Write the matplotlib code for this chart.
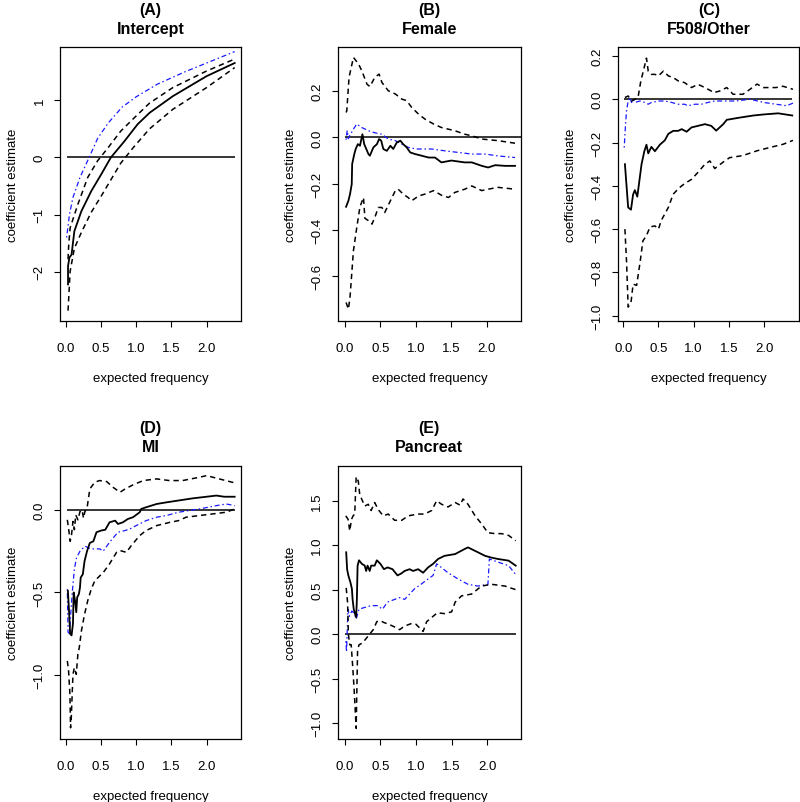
import matplotlib
matplotlib.use("Agg")
import matplotlib.pyplot as plt

plt.rcParams['font.family'] = ['Liberation Sans', 'DejaVu Sans']

# ---------------- data ----------------
titles = ["(A)\nIntercept", "(B)\nFemale", "(C)\nF508/Other", "(D)\nMI", "(E)\nPancreat"]
xlabel = "expected frequency"
ylabel = "coefficient estimate"
xticks = [0.0, 0.5, 1.0, 1.5, 2.0]
xtick_labels = ["0.0", "0.5", "1.0", "1.5", "2.0"]
yticks_A = [-2, -1, 0, 1]
yticks_B = [-0.6, -0.4, -0.2, 0.0, 0.2]
yticks_C = [-1.0, -0.8, -0.6, -0.4, -0.2, 0.0, 0.2]
yticks_D = [-1.0, -0.5, 0.0]
yticks_E = [-1.0, -0.5, 0.0, 0.5, 1.0, 1.5]
ylabels_A = ["\u22122", "\u22121", "0", "1"]
ylabels_B = ["\u22120.6", "\u22120.4", "\u22120.2", "0.0", "0.2"]
ylabels_C = ["\u22121.0", "\u22120.8", "\u22120.6", "\u22120.4", "\u22120.2", "0.0", "0.2"]
ylabels_D = ["\u22121.0", "\u22120.5", "0.0"]
ylabels_E = ["\u22121.0", "\u22120.5", "0.0", "0.5", "1.0", "1.5"]

# Panel A (Intercept)
A_est_x = [0.03, 0.03, 0.05, 0.08, 0.12, 0.22, 0.36, 0.50, 0.64, 0.83, 1.02, 1.19, 1.52, 2.0, 2.4]
A_est_y = [-2.22, -1.90, -1.75, -1.70, -1.29, -0.94, -0.59, -0.30, 0.0, 0.28, 0.58, 0.78, 1.07, 1.42, 1.65]
A_up_x = [0.03, 0.04, 0.06, 0.17, 0.31, 0.45, 0.6, 0.78, 0.97, 1.19, 1.52, 2.0, 2.4]
A_up_y = [-1.78, -1.52, -1.23, -0.82, -0.35, -0.06, 0.17, 0.46, 0.69, 0.95, 1.22, 1.51, 1.72]
A_lo_x = [0.03, 0.05, 0.06, 0.12, 0.22, 0.36, 0.5, 0.64, 0.78, 0.97, 1.19, 1.52, 2.0, 2.4]
A_lo_y = [-2.68, -2.22, -1.99, -1.59, -1.31, -0.96, -0.68, -0.39, -0.10, 0.19, 0.50, 0.84, 1.22, 1.57]
A_bl_x = [0.01, 0.05, 0.1, 0.2, 0.33, 0.45, 0.6, 0.8, 1.0, 1.3, 1.7, 2.0, 2.4]
A_bl_y = [-1.40, -1.0, -0.7, -0.35, 0.0, 0.33, 0.6, 0.88, 1.06, 1.28, 1.5, 1.65, 1.85]

# Panel B (Female)
B_est_x = [0.014, 0.047, 0.07, 0.094, 0.10, 0.13, 0.15, 0.18, 0.21, 0.245, 0.27, 0.33, 0.35, 0.40, 0.45,
           0.48, 0.51, 0.54, 0.59, 0.64, 0.68, 0.73, 0.78, 0.82, 0.87, 0.92, 0.99, 1.08, 1.18, 1.27,
           1.36, 1.5, 1.69, 1.79, 1.93, 2.02, 2.12, 2.26, 2.4]
B_est_y = [-0.30, -0.274, -0.245, -0.202, -0.115, -0.072, -0.05, -0.029, -0.036, 0.014, -0.029, -0.072,
           -0.079, -0.043, -0.029, -0.007, -0.014, -0.05, -0.058, -0.036, -0.05, -0.022, -0.014, -0.029,
           -0.043, -0.065, -0.072, -0.079, -0.087, -0.087, -0.108, -0.10, -0.108, -0.108, -0.123, -0.13,
           -0.12, -0.123, -0.123]
B_up_x = [0.014, 0.024, 0.056, 0.118, 0.19, 0.235, 0.31, 0.35, 0.42, 0.48, 0.52, 0.61, 0.71, 0.8, 0.87,
          0.94, 1.04, 1.13, 1.25, 1.36, 1.55, 1.69, 1.79, 1.93, 2.16, 2.4]
B_up_y = [0.108, 0.115, 0.26, 0.346, 0.318, 0.289, 0.23, 0.22, 0.26, 0.274, 0.238, 0.202, 0.188, 0.166,
          0.159, 0.13, 0.10, 0.079, 0.058, 0.043, 0.029, 0.014, 0.007, -0.007, -0.014, -0.025]
B_lo_x = [0.014, 0.047, 0.07, 0.094, 0.118, 0.165, 0.21, 0.26, 0.28, 0.33, 0.38, 0.42, 0.47, 0.52, 0.56,
          0.64, 0.71, 0.75, 0.82, 0.89, 0.94, 1.04, 1.13, 1.25, 1.36, 1.46, 1.55, 1.69, 1.79, 1.93, 2.02,
          2.16, 2.4]
B_lo_y = [-0.714, -0.743, -0.69, -0.59, -0.49, -0.39, -0.30, -0.26, -0.35, -0.36, -0.375, -0.346, -0.303,
          -0.303, -0.325, -0.274, -0.23, -0.224, -0.245, -0.26, -0.274, -0.253, -0.245, -0.23, -0.25,
          -0.26, -0.238, -0.224, -0.21, -0.23, -0.224, -0.216, -0.224]
B_bl_x = [0.014, 0.03, 0.045, 0.07, 0.118, 0.165, 0.235, 0.33, 0.42, 0.52, 0.61, 0.71, 0.8, 0.89, 1.01,
          1.13, 1.22, 1.41, 1.6, 1.79, 1.98, 2.16, 2.4]
B_bl_y = [-0.01, 0.03, -0.005, 0.01, 0.036, 0.058, 0.043, 0.029, 0.02, 0.014, -0.007, -0.014, -0.029,
          -0.043, -0.05, -0.05, -0.05, -0.058, -0.065, -0.072, -0.072, -0.08, -0.087]

# Panel C (F508/Other)
C_est_x = [0.024, 0.047, 0.07, 0.11, 0.14, 0.165, 0.2, 0.236, 0.26, 0.30, 0.33, 0.355, 0.40, 0.45, 0.52,
           0.59, 0.64, 0.71, 0.78, 0.83, 0.9, 0.97, 1.06, 1.16, 1.25, 1.32, 1.42, 1.47, 1.56, 1.65, 1.75,
           1.85, 2.0, 2.2, 2.4]
C_est_y = [-0.30, -0.40, -0.50, -0.51, -0.44, -0.42, -0.45, -0.36, -0.30, -0.24, -0.21, -0.25, -0.22,
           -0.24, -0.21, -0.19, -0.16, -0.146, -0.146, -0.138, -0.15, -0.13, -0.123, -0.115, -0.123, -0.145,
           -0.115, -0.095, -0.09, -0.085, -0.08, -0.075, -0.07, -0.065, -0.075]
C_up_x = [0.024, 0.07, 0.118, 0.165, 0.21, 0.25, 0.28, 0.33, 0.355, 0.4, 0.45, 0.5, 0.57, 0.64, 0.71, 0.78,
          0.87, 0.97, 1.06, 1.16, 1.25, 1.28, 1.37, 1.47, 1.56, 1.7, 1.8, 1.9, 1.99, 2.17, 2.27, 2.41]
C_up_y = [0.008, 0.015, -0.008, 0.0, 0.008, 0.085, 0.123, 0.19, 0.13, 0.115, 0.115, 0.108, 0.13, 0.108,
          0.1, 0.085, 0.077, 0.054, 0.069, 0.054, 0.038, 0.03, 0.038, 0.054, 0.023, 0.023, 0.046, 0.07,
          0.054, 0.054, 0.06, 0.046]
C_lo_x = [0.024, 0.047, 0.07, 0.11, 0.14, 0.19, 0.236, 0.28, 0.33, 0.38, 0.45, 0.5, 0.54, 0.64, 0.71, 0.8,
          0.87, 0.97, 1.06, 1.16, 1.23, 1.3, 1.42, 1.51, 1.7, 1.9, 2.08, 2.27, 2.41]
C_lo_y = [-0.6, -0.75, -0.96, -0.94, -0.854, -0.86, -0.76, -0.654, -0.63, -0.59, -0.585, -0.6, -0.56,
          -0.5, -0.438, -0.408, -0.39, -0.37, -0.338, -0.3, -0.285, -0.32, -0.29, -0.27, -0.26, -0.238,
          -0.223, -0.208, -0.19]
C_bl_x = [0.014, 0.033, 0.047, 0.07, 0.095, 0.118, 0.14, 0.165, 0.236, 0.31, 0.355, 0.4, 0.5, 0.59, 0.69,
          0.78, 0.87, 0.92, 1.02, 1.11, 1.2, 1.3, 1.37, 1.6, 1.8, 2.0, 2.17, 2.32, 2.41]
C_bl_y = [-0.223, -0.115, -0.054, -0.008, 0.008, -0.015, 0.0, -0.015, -0.008, -0.015, -0.023, -0.015,
          -0.008, -0.008, -0.015, -0.023, -0.023, -0.03, -0.023, -0.023, -0.015, -0.008, -0.008, -0.008,
          0.0, -0.015, -0.023, -0.03, -0.018]

# Panel D (MI)
D_est_x = [0.028, 0.045, 0.06, 0.08, 0.10, 0.11, 0.13, 0.147, 0.16, 0.184, 0.2, 0.21, 0.24, 0.265, 0.3,
           0.34, 0.39, 0.435, 0.5, 0.56, 0.62, 0.7, 0.74, 0.81, 0.88, 0.955, 1.05, 1.07, 1.14, 1.29, 1.43,
           1.6, 1.8, 2.0, 2.14, 2.25, 2.4]
D_est_y = [-0.49, -0.62, -0.75, -0.76, -0.69, -0.50, -0.55, -0.62, -0.53, -0.51, -0.47, -0.41, -0.39,
           -0.31, -0.25, -0.2, -0.19, -0.135, -0.125, -0.12, -0.075, -0.065, -0.085, -0.075, -0.055,
           -0.044, -0.014, 0.006, 0.016, 0.036, 0.046, 0.057, 0.07, 0.08, 0.087, 0.08, 0.08]
D_up_x = [0.02, 0.04, 0.06, 0.08, 0.10, 0.12, 0.14, 0.17, 0.2, 0.23, 0.25, 0.27, 0.3, 0.34, 0.41, 0.48,
          0.58, 0.67, 0.77, 0.84, 0.955, 1.1, 1.29, 1.47, 1.66, 1.9, 2.0, 2.18, 2.4]
D_up_y = [-0.06, -0.12, -0.19, -0.15, -0.07, -0.12, -0.03, -0.06, -0.01, 0.0, -0.05, -0.01, 0.01, 0.127,
          0.168, 0.178, 0.172, 0.137, 0.107, 0.127, 0.152, 0.178, 0.188, 0.178, 0.178, 0.198, 0.208, 0.188,
          0.164]
D_lo_x = [0.02, 0.038, 0.057, 0.066, 0.076, 0.1, 0.12, 0.147, 0.17, 0.19, 0.22, 0.265, 0.31, 0.36, 0.41,
          0.48, 0.53, 0.62, 0.72, 0.77, 0.86, 0.93, 1.05, 1.14, 1.29, 1.48, 1.6, 1.71, 1.9, 2.09, 2.28, 2.4]
D_lo_y = [-0.915, -0.976, -1.117, -1.32, -1.26, -0.996, -0.956, -0.996, -0.875, -0.834, -0.733, -0.632,
          -0.55, -0.48, -0.43, -0.40, -0.38, -0.327, -0.257, -0.246, -0.257, -0.216, -0.155, -0.125, -0.095,
          -0.075, -0.065, -0.044, -0.034, -0.024, -0.014, 0.006]
D_bl_x = [0.02, 0.03, 0.05, 0.07, 0.09, 0.12, 0.15, 0.2, 0.27, 0.36, 0.48, 0.53, 0.62, 0.74, 0.84, 0.91,
          1.0, 1.14, 1.29, 1.43, 1.6, 1.9, 2.14, 2.28, 2.4]
D_bl_y = [-0.48, -0.74, -0.75, -0.62, -0.5, -0.36, -0.29, -0.25, -0.22, -0.236, -0.236, -0.25, -0.196,
          -0.135, -0.125, -0.115, -0.095, -0.065, -0.044, -0.034, -0.014, 0.006, 0.026, 0.036, 0.026]

# Panel E (Pancreat)
E_est_x = [0.02, 0.033, 0.05, 0.08, 0.1, 0.11, 0.126, 0.145, 0.16, 0.17, 0.18, 0.2, 0.24, 0.28, 0.3, 0.32,
           0.35, 0.37, 0.42, 0.45, 0.5, 0.55, 0.6, 0.67, 0.74, 0.79, 0.84, 0.91, 0.96, 1.03, 1.1, 1.17,
           1.24, 1.31, 1.4, 1.55, 1.69, 1.73, 1.87, 1.97, 2.06, 2.15, 2.3, 2.4]
E_est_y = [0.92, 0.73, 0.66, 0.58, 0.51, 0.39, 0.28, 0.225, 0.19, 0.39, 0.77, 0.83, 0.79, 0.77, 0.71, 0.77,
           0.71, 0.77, 0.77, 0.83, 0.79, 0.73, 0.75, 0.73, 0.66, 0.68, 0.71, 0.73, 0.71, 0.73, 0.69, 0.75,
           0.79, 0.845, 0.88, 0.9, 0.96, 0.975, 0.92, 0.88, 0.86, 0.845, 0.826, 0.77]
E_up_x = [0.014, 0.047, 0.07, 0.094, 0.117, 0.14, 0.16, 0.19, 0.21, 0.28, 0.33, 0.37, 0.42, 0.47, 0.54,
          0.61, 0.7, 0.8, 0.89, 1.03, 1.12, 1.22, 1.29, 1.36, 1.45, 1.55, 1.62, 1.66, 1.73, 1.83, 1.92,
          2.01, 2.11, 2.2, 2.3, 2.4]
E_up_y = [1.33, 1.29, 1.16, 1.29, 1.33, 1.35, 1.77, 1.72, 1.57, 1.44, 1.46, 1.39, 1.48, 1.40, 1.33, 1.35,
          1.28, 1.28, 1.33, 1.35, 1.35, 1.39, 1.5, 1.46, 1.43, 1.48, 1.45, 1.52, 1.46, 1.33, 1.24, 1.14,
          1.13, 1.13, 1.11, 1.05]
E_lo_x = [0.02, 0.04, 0.05, 0.07, 0.09, 0.11, 0.13, 0.16, 0.17, 0.18, 0.2, 0.25, 0.3, 0.35, 0.4, 0.45,
          0.5, 0.55, 0.62, 0.7, 0.77, 0.84, 0.94, 1.0, 1.05, 1.1, 1.15, 1.24, 1.3, 1.4, 1.5, 1.55, 1.64,
          1.78, 1.92, 2.06, 2.25, 2.4]
E_lo_y = [0.52, 0.35, 0.0, -0.12, -0.12, -0.35, -0.6, -1.06, -0.62, -0.18, -0.12, -0.1, -0.05, 0.0, 0.05,
          0.14, 0.15, 0.13, 0.11, 0.08, 0.05, 0.09, 0.12, 0.11, 0.07, 0.03, 0.14, 0.2, 0.24, 0.23, 0.25,
          0.36, 0.43, 0.45, 0.54, 0.56, 0.54, 0.50]
E_bl_x = [0.015, 0.025, 0.035, 0.045, 0.066, 0.1, 0.136, 0.16, 0.2, 0.28, 0.37, 0.46, 0.53, 0.6, 0.7,
          0.77, 0.84, 0.91, 0.98, 1.07, 1.17, 1.24, 1.29, 1.45, 1.59, 1.73, 1.87, 2.01, 2.03, 2.15, 2.3, 2.4]
E_bl_y = [-0.08, -0.2, 0.05, 0.28, 0.2, 0.26, 0.23, 0.17, 0.28, 0.3, 0.32, 0.32, 0.28, 0.36, 0.39, 0.41,
          0.39, 0.45, 0.51, 0.56, 0.62, 0.66, 0.79, 0.69, 0.62, 0.56, 0.54, 0.56, 0.845, 0.81, 0.77, 0.67]

zero_x = [0.01, 2.4]
zero_x_B = [0.0, 2.6]

# ---------------- layout ----------------
W, H = 800, 803
fig = plt.figure(figsize=(W / 100, H / 100), dpi=100)

def frac_box(l, t, r, b):
    return [l / W, 1 - b / H, (r - l) / W, (b - t) / H]

panels = [
    dict(box=frac_box(60.3, 48.3, 241.0, 321.7), xlim=(-0.08, 2.49), ylim=(-2.855, 1.925),
         yt=yticks_A, yl=ylabels_A, est=(A_est_x, A_est_y), up=(A_up_x, A_up_y), lo=(A_lo_x, A_lo_y),
         bl=(A_bl_x, A_bl_y), zx=zero_x),
    dict(box=frac_box(338.0, 48.3, 520.7, 321.7), xlim=(-0.10, 2.48), ylim=(-0.793, 0.39),
         yt=yticks_B, yl=ylabels_B, est=(B_est_x, B_est_y), up=(B_up_x, B_up_y), lo=(B_lo_x, B_lo_y),
         bl=(B_bl_x, B_bl_y), zx=zero_x_B),
    dict(box=frac_box(618.3, 48.3, 799.3, 321.7), xlim=(-0.07, 2.5), ylim=(-1.023, 0.24),
         yt=yticks_C, yl=ylabels_C, est=(C_est_x, C_est_y), up=(C_up_x, C_up_y), lo=(C_lo_x, C_lo_y),
         bl=(C_bl_x, C_bl_y), zx=zero_x),
    dict(box=frac_box(60.3, 466.7, 241.0, 740.0), xlim=(-0.08, 2.49), ylim=(-1.388, 0.268),
         yt=yticks_D, yl=ylabels_D, est=(D_est_x, D_est_y), up=(D_up_x, D_up_y), lo=(D_lo_x, D_lo_y),
         bl=(D_bl_x, D_bl_y), zx=zero_x),
    dict(box=frac_box(338.0, 466.7, 520.7, 740.0), xlim=(-0.095, 2.47), ylim=(-1.18, 1.894),
         yt=yticks_E, yl=ylabels_E, est=(E_est_x, E_est_y), up=(E_up_x, E_up_y), lo=(E_lo_x, E_lo_y),
         bl=(E_bl_x, E_bl_y), zx=zero_x),
]

dash = (0, (3.5, 2.6))
dotdash = (0, (1.2, 2.2, 4.0, 2.2))

for p, title in zip(panels, titles):
    ax = fig.add_axes(p['box'])
    ax.plot(p['zx'], [0, 0], color='black', lw=1.1, solid_capstyle='butt')
    ax.plot(*p['bl'], color='#1a1aff', lw=0.9, linestyle=dotdash)
    ax.plot(*p['up'], color='black', lw=1.1, linestyle=dash)
    ax.plot(*p['lo'], color='black', lw=1.1, linestyle=dash)
    ax.plot(*p['est'], color='black', lw=1.3)
    ax.set_xlim(*p['xlim'])
    ax.set_ylim(*p['ylim'])
    ax.set_xticks(xticks)
    ax.set_xticklabels(xtick_labels)
    ax.set_yticks(p['yt'])
    ax.set_yticklabels(p['yl'], rotation=90, va='center')
    ax.tick_params(axis='both', direction='out', length=4.5, width=0.8, labelsize=9.5, colors='black')
    ax.tick_params(axis='x', pad=10.5)
    ax.tick_params(axis='y', pad=6)
    for s in ax.spines.values():
        s.set_linewidth(0.9)
    ax.set_title(title, fontsize=11.5, fontweight='bold', pad=10.5, linespacing=1.32)
    wpx = p['box'][2] * W
    hpx = p['box'][3] * H
    ax.set_xlabel(xlabel, fontsize=9.5)
    ax.xaxis.set_label_coords(0.5, -51.0 / hpx)
    ax.set_ylabel(ylabel, fontsize=9.5)
    ax.yaxis.set_label_coords(-41.0 / wpx, 0.5)

fig.savefig("out.png", dpi=100)
